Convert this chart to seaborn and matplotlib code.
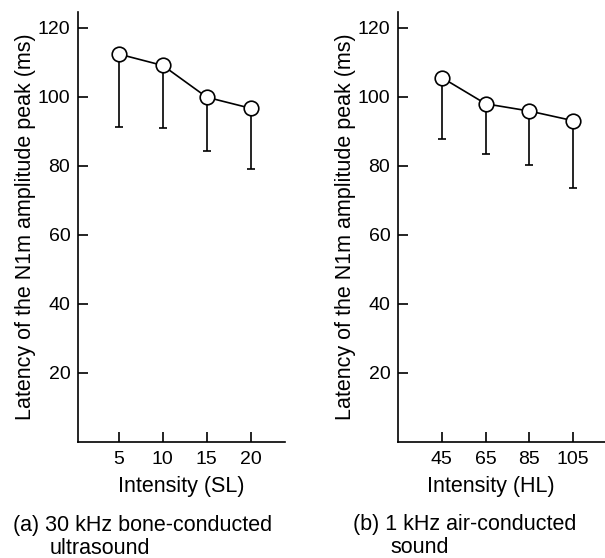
import matplotlib
matplotlib.use("Agg")
import matplotlib.pyplot as plt
import seaborn as sns
import numpy as np
import pandas as pd

# panel (a): 30 kHz bone-conducted ultrasound
sl_levels = [5, 10, 15, 20]
sl_latency = [112.4, 109.1, 99.9, 96.7]
sl_sd = [21.1, 18.2, 15.6, 17.6]

# panel (b): 1 kHz air-conducted sound
hl_levels = [45, 65, 85, 105]
hl_latency = [105.6, 98.0, 95.9, 93.1]
hl_sd = [17.9, 14.5, 15.7, 19.6]

y_ticks = [20, 40, 60, 80, 100, 120]

sns.set_style("ticks")
plt.rcParams['font.family'] = ['Liberation Sans', 'DejaVu Sans']
plt.rcParams['text.color'] = 'black'
plt.rcParams['axes.labelcolor'] = 'black'

W, H = 605, 558
fig = plt.figure(figsize=(W / 100, H / 100), dpi=100)
ax_a = fig.add_axes([78 / W, 1 - 442 / H, 207 / W, 430 / H])
ax_b = fig.add_axes([398 / W, 1 - 442 / H, 207 / W, 430 / H])


def draw_panel(ax, levels, latency, sd, xlim, xlabel, xlab_pos):
    df = pd.DataFrame({'level': levels, 'latency': latency})
    # one-sided (downward) SD bars
    ax.errorbar(levels, latency, yerr=[sd, np.zeros(len(sd))], fmt='none',
                ecolor='black', elinewidth=1.2, capsize=3, capthick=1.2, zorder=1)
    sns.lineplot(data=df, x='level', y='latency', ax=ax, color='black', lw=1.2,
                 marker='o', markersize=10.5, markerfacecolor='white',
                 markeredgecolor='black', markeredgewidth=1.2, zorder=2)
    ax.set_xlim(*xlim)
    ax.set_ylim(0, 124.6)
    ax.set_xticks(levels)
    ax.set_yticks(y_ticks)
    ax.tick_params(direction='in', length=7, width=1.2, labelsize=14, colors='black')
    ax.tick_params(axis='x', pad=6.5)
    ax.tick_params(axis='y', pad=5.5)
    ax.set_xlabel(xlabel, fontsize=15.5)
    ax.set_ylabel('Latency of the N1m amplitude peak (ms)', fontsize=15.5)
    ax.xaxis.set_label_coords(xlab_pos, -0.079)
    ax.yaxis.set_label_coords(-0.205, 0.5)
    for s in ['top', 'right']:
        ax.spines[s].set_visible(False)
    for s in ['left', 'bottom']:
        ax.spines[s].set_linewidth(1.2)
        ax.spines[s].set_color('black')


draw_panel(ax_a, sl_levels, sl_latency, sl_sd, (0.34, 23.9), 'Intensity (SL)', 0.5)
draw_panel(ax_b, hl_levels, hl_latency, hl_sd, (25, 119.5), 'Intensity (HL)', 0.45)

# captions under each panel
fig.text(12.7 / W, 1 - 531 / H, '(a) 30 kHz bone-conducted', fontsize=15.5, va='baseline')
fig.text(50 / W, 1 - 554 / H, 'ultrasound', fontsize=15.5, va='baseline')
fig.text(353 / W, 1 - 530 / H, '(b) 1 kHz air-conducted', fontsize=15.5, va='baseline')
fig.text(390 / W, 1 - 553 / H, 'sound', fontsize=15.5, va='baseline')

fig.savefig('out.png', dpi=100)
